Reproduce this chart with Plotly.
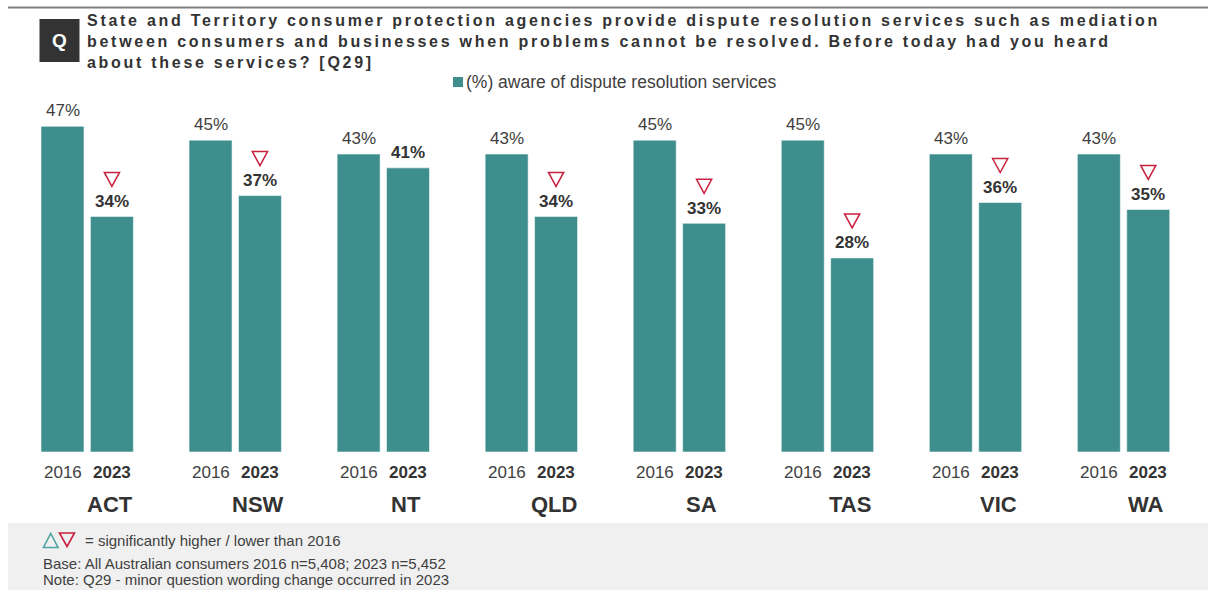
import plotly.graph_objects as go

# ---- data -------------------------------------------------------------
states = ["ACT", "NSW", "NT", "QLD", "SA", "TAS", "VIC", "WA"]
aware_2016 = [47, 45, 43, 43, 45, 45, 43, 43]
aware_2023 = [34, 37, 41, 34, 33, 28, 36, 35]
# -1 = significantly lower than 2016, 0 = no significant change
sig_2023 = [-1, -1, 0, -1, -1, -1, -1, -1]
years = ["2016", "2023"]

title_lines = [
    "State and Territory consumer protection agencies provide dispute resolution services such as mediation",
    "between consumers and businesses when problems cannot be resolved. Before today had you heard",
    "about these services? [Q29]",
]
legend_text = "(%) aware of dispute resolution services"
sig_text = "= significantly higher / lower than 2016"
base_text = "Base: All Australian consumers 2016 n=5,408; 2023 n=5,452"
note_text = "Note: Q29 - minor question wording change occurred in 2023"

# ---- layout geometry (pixels) ----------------------------------------
W, H = 1208, 590
BASE_PX = 452.0          # vertical pixel of the 0% baseline
PX_PER_PCT = 6.93        # pixels per percentage point
GROUP0_PX = 87.2         # centre of first state group
GROUP_STEP_PX = 148.05   # distance between state groups
BAR_W_PX = 43.0
BAR_OFF_PX = 24.7
TITLE_LINE_PX = [21, 41.5, 62]
TITLE_TRACKING = "2.72px"

TEAL = "#3F8E8E"
RED = "#C8203F"
DARK = "#333333"
TXT = "#404040"
FONT = "Liberation Sans, Arial, sans-serif"

bar_w = BAR_W_PX / GROUP_STEP_PX
off = BAR_OFF_PX / GROUP_STEP_PX
x_range = [(0 - GROUP0_PX) / GROUP_STEP_PX, (W - GROUP0_PX) / GROUP_STEP_PX]
y_range = [(BASE_PX - H) / PX_PER_PCT, BASE_PX / PX_PER_PCT]


def py(pix):
    """Vertical pixel position -> data value."""
    return (BASE_PX - pix) / PX_PER_PCT


def pp(pix):
    """Vertical pixel position -> paper fraction."""
    return 1 - pix / H


def px(pix):
    """Horizontal pixel position -> paper fraction."""
    return pix / W


idx = list(range(len(states)))
x16 = [i - off for i in idx]
x23 = [i + off for i in idx]

fig = go.Figure()
fig.add_trace(go.Bar(x=x16, y=aware_2016, width=bar_w, name="2016",
                     marker=dict(color=TEAL, line=dict(color="rgba(255,255,255,0.55)", width=1)),
                     showlegend=False, hoverinfo="skip"))
fig.add_trace(go.Bar(x=x23, y=aware_2023, width=bar_w, name="2023",
                     marker=dict(color=TEAL, line=dict(color="rgba(255,255,255,0.55)", width=1)),
                     showlegend=False, hoverinfo="skip"))

annotations = []
shapes = []

# Title block (bold, letter-spaced question)
shapes.append(dict(type="line", xref="paper", yref="paper", x0=px(8), x1=1, y0=pp(7.5), y1=pp(7.5),
                   line=dict(color="#7F7F7F", width=2)))
shapes.append(dict(type="rect", xref="paper", yref="paper", x0=px(39.5), x1=px(79.5), y0=pp(62), y1=pp(19),
                   fillcolor=DARK, line=dict(width=0)))
for line, ypix in zip(title_lines, TITLE_LINE_PX):
    annotations.append(dict(text=f'<b><span style="letter-spacing:{TITLE_TRACKING}">{line}</span></b>',
                            xref="paper", yref="paper", x=px(85), y=pp(ypix),
                            xanchor="left", yanchor="middle", align="left", showarrow=False,
                            font=dict(family=FONT, size=16, color=DARK)))
annotations.append(dict(text="<b>Q</b>", xref="paper", yref="paper", x=px(59.5), y=pp(40.5),
                        xanchor="center", yanchor="middle", showarrow=False,
                        font=dict(family=FONT, size=19, color="white")))

# Legend
shapes.append(dict(type="rect", xref="paper", yref="paper", x0=px(453), x1=px(463), y0=pp(87), y1=pp(77),
                   fillcolor=TEAL, line=dict(width=0)))
annotations.append(dict(text=legend_text, xref="paper", yref="paper", x=px(464), y=pp(82),
                        xanchor="left", yanchor="middle", showarrow=False,
                        font=dict(family=FONT, size=17.5, color=TXT)))

# Value labels, year labels, state names
for i, st in enumerate(states):
    annotations.append(dict(text=f"{aware_2016[i]}%", x=x16[i], y=aware_2016[i], yshift=16,
                            xanchor="center", yanchor="middle", showarrow=False,
                            font=dict(family=FONT, size=17, color=TXT)))
    annotations.append(dict(text=f"<b>{aware_2023[i]}%</b>", x=x23[i], y=aware_2023[i], yshift=15,
                            xanchor="center", yanchor="middle", showarrow=False,
                            font=dict(family=FONT, size=17, color=DARK)))
    annotations.append(dict(text=years[0], x=x16[i], y=py(472.5),
                            xanchor="center", yanchor="middle", showarrow=False,
                            font=dict(family=FONT, size=17, color=TXT)))
    annotations.append(dict(text=f"<b>{years[1]}</b>", x=x23[i], y=py(472.5),
                            xanchor="center", yanchor="middle", showarrow=False,
                            font=dict(family=FONT, size=17, color=DARK)))
    annotations.append(dict(text=f"<b>{st}</b>", x=i + 0.152, y=py(504.5),
                            xanchor="center", yanchor="middle", showarrow=False,
                            font=dict(family=FONT, size=22, color=DARK)))
    if sig_2023[i] < 0:
        # open downward triangle above the 2023 value label
        shapes.append(dict(type="path", xref="x", yref="y", xsizemode="pixel", ysizemode="pixel",
                           xanchor=x23[i], yanchor=aware_2023[i],
                           path="M -7.6,44 L 7.6,44 L 0,30 Z",
                           line=dict(color=RED, width=1.5), fillcolor="rgba(0,0,0,0)"))

# Footer panel
shapes.append(dict(type="rect", xref="paper", yref="paper", x0=px(8), x1=1, y0=0, y1=pp(523),
                   fillcolor="#F0F0F0", line=dict(width=0), layer="below"))
shapes.append(dict(type="path", xref="paper", yref="paper",
                   path=f"M {px(43.5)},{pp(547.5)} L {px(58)},{pp(547.5)} L {px(50.75)},{pp(533.5)} Z",
                   line=dict(color="#4FA3A3", width=1.6), fillcolor="rgba(0,0,0,0)"))
shapes.append(dict(type="path", xref="paper", yref="paper",
                   path=f"M {px(59.5)},{pp(533)} L {px(74.5)},{pp(533)} L {px(67)},{pp(546.5)} Z",
                   line=dict(color=RED, width=1.6), fillcolor="rgba(0,0,0,0)"))
annotations.append(dict(text=sig_text, xref="paper", yref="paper", x=px(83), y=pp(540),
                        xanchor="left", yanchor="middle", showarrow=False,
                        font=dict(family=FONT, size=15, color=TXT)))
annotations.append(dict(text=base_text, xref="paper", yref="paper", x=px(41), y=pp(563),
                        xanchor="left", yanchor="middle", showarrow=False,
                        font=dict(family=FONT, size=15, color=TXT)))
annotations.append(dict(text=note_text, xref="paper", yref="paper", x=px(41), y=pp(579),
                        xanchor="left", yanchor="middle", showarrow=False,
                        font=dict(family=FONT, size=15, color=TXT)))

fig.update_layout(
    width=W, height=H,
    margin=dict(l=0, r=0, t=0, b=0),
    paper_bgcolor="white", plot_bgcolor="rgba(0,0,0,0)",
    xaxis=dict(range=x_range, visible=False, fixedrange=True),
    yaxis=dict(range=y_range, visible=False, fixedrange=True),
    annotations=annotations, shapes=shapes,
    showlegend=False,
)

fig.write_html("out.html", config={"displayModeBar": False})
